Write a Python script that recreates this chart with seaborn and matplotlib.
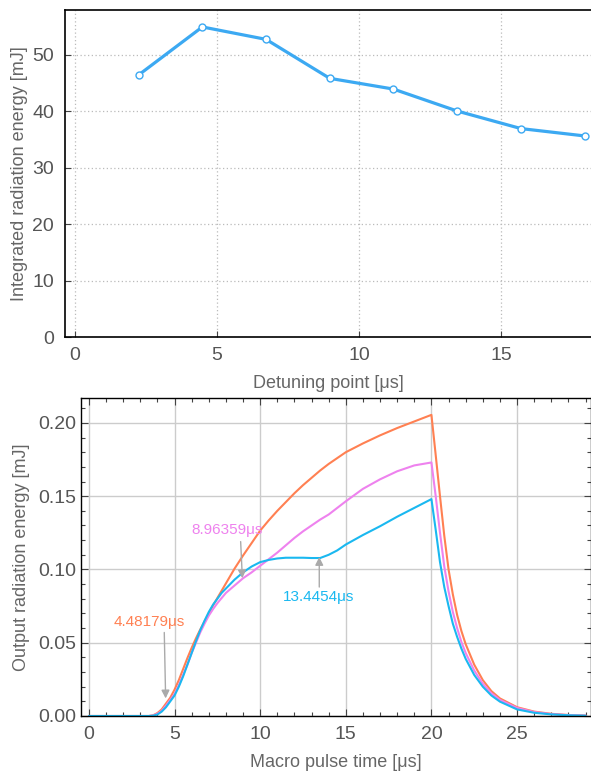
import seaborn as sns
import matplotlib.pyplot as plt
import matplotlib.ticker as mticker
import pandas as pd

# ---- data ----
detune_pts = [2.24, 4.48, 6.72, 8.96, 11.20, 13.45, 15.69, 17.93]
energy_mj = [46.4, 54.9, 52.7, 45.8, 43.9, 40.0, 36.9, 35.6]

t_us = [0, 1, 2, 3,
        3.5, 3.75, 4, 4.25, 4.5, 4.75, 5, 5.25, 5.5, 5.75, 6, 6.25, 6.5, 6.75, 7, 7.25, 7.5, 7.75, 8,
        8.5, 9, 9.5, 10, 10.5, 11, 11.5, 12, 12.5, 13, 13.5, 14, 14.5, 15,
        16, 17, 18, 19, 20,
        20.25, 20.5, 20.75, 21, 21.25, 21.5, 21.75, 22,
        22.5, 23, 23.5, 24,
        25, 26, 27, 28, 29]
e_448 = [0, 0, 0, 0,
         0, 0.0005, 0.002, 0.0045, 0.0085, 0.0125, 0.018, 0.0245, 0.032, 0.0395, 0.0465, 0.053, 0.059, 0.0645, 0.070, 0.0755, 0.0805, 0.0855, 0.0905,
         0.1005, 0.1095, 0.118, 0.1265, 0.1335, 0.140, 0.146, 0.152, 0.1575, 0.1625, 0.1675, 0.172, 0.176, 0.180,
         0.186, 0.1915, 0.1965, 0.201, 0.2055,
         0.178, 0.150, 0.123, 0.100, 0.083, 0.069, 0.058, 0.049,
         0.035, 0.0245, 0.017, 0.012,
         0.006, 0.003, 0.0015, 0.0007, 0.0003]
e_896 = [0, 0, 0, 0,
         0, 0.0003, 0.0015, 0.0035, 0.007, 0.011, 0.015, 0.021, 0.028, 0.035, 0.043, 0.050, 0.057, 0.063, 0.0685, 0.073, 0.077, 0.0805, 0.084,
         0.089, 0.094, 0.098, 0.1025, 0.107, 0.1115, 0.1165, 0.1215, 0.126, 0.130, 0.134, 0.1375, 0.142, 0.1465,
         0.155, 0.1615, 0.167, 0.171, 0.173,
         0.150, 0.125, 0.102, 0.085, 0.071, 0.060, 0.0505, 0.043,
         0.031, 0.022, 0.0155, 0.011,
         0.0055, 0.0027, 0.0013, 0.0006, 0.0003]
e_1345 = [0, 0, 0, 0,
          0, 0.0002, 0.001, 0.003, 0.006, 0.010, 0.014, 0.020, 0.027, 0.035, 0.043, 0.051, 0.0585, 0.065, 0.071, 0.076, 0.080, 0.084, 0.087,
          0.093, 0.098, 0.102, 0.105, 0.1065, 0.1075, 0.108, 0.108, 0.108, 0.1078, 0.1078, 0.110, 0.113, 0.117,
          0.1235, 0.1295, 0.136, 0.142, 0.148,
          0.127, 0.105, 0.088, 0.075, 0.063, 0.054, 0.046, 0.039,
          0.028, 0.020, 0.014, 0.0098,
          0.0045, 0.0022, 0.0011, 0.0005, 0.0002]
curve_names = ['4.48179μs', '8.96359μs', '13.4454μs']

palette = {'4.48179μs': '#FF8052', '8.96359μs': '#EE82EE', '13.4454μs': '#1AB8F0'}
top_color = '#3CA9F2'

sns.set_theme(style="ticks")
plt.rcParams['font.family'] = ['Liberation Sans', 'DejaVu Sans']
tick_fs = 14
label_fs = 13
tick_c = '#555555'
label_c = '#666666'

fig = plt.figure(figsize=(5.91, 7.72), dpi=100)
ax1 = fig.add_axes([65/591, 1 - 337/772, 526/591, 327/772])
ax2 = fig.add_axes([80.7/591, 1 - 716/772, 510/591, 318/772])

# ---- top panel ----
df_top = pd.DataFrame({'detune': detune_pts, 'energy': energy_mj})
sns.lineplot(data=df_top, x='detune', y='energy', ax=ax1, color=top_color, lw=2.3,
             marker='o', markersize=5, markerfacecolor='white',
             markeredgecolor=top_color, markeredgewidth=1.0)
ax1.set_xlim(-0.35, 18.15)
ax1.set_ylim(0, 57.9)
ax1.set_xticks([0, 5, 10, 15])
ax1.set_yticks([0, 10, 20, 30, 40, 50])
ax1.grid(True, ls=(0, (1, 2)), color='#bbbbbb', lw=0.9)
ax1.tick_params(direction='in', length=4, width=0.8, labelsize=tick_fs, labelcolor=tick_c, color='#444444')
ax1.tick_params(axis='x', pad=7)
ax1.tick_params(axis='y', pad=8)
ax1.set_xlabel('Detuning point [μs]', fontsize=label_fs, color=label_c, labelpad=8)
ax1.set_ylabel('Integrated radiation energy [mJ]', fontsize=label_fs, color=label_c, labelpad=3)
for s in ax1.spines.values():
    s.set_color('black')
    s.set_linewidth(1.2)
ax1.spines['right'].set_visible(False)

# ---- bottom panel ----
df_bot = pd.DataFrame({'t': t_us, curve_names[0]: e_448, curve_names[1]: e_896, curve_names[2]: e_1345})
df_bot = pd.melt(df_bot, id_vars=['t'], var_name='detune', value_name='energy')
sns.lineplot(data=df_bot, x='t', y='energy', hue='detune', hue_order=curve_names,
             palette=palette, ax=ax2, lw=1.5, legend=False)
ax2.set_xlim(-0.48, 29.3)
ax2.set_ylim(0, 0.217)
ax2.set_xticks([0, 5, 10, 15, 20, 25])
ax2.set_yticks([0, 0.05, 0.10, 0.15, 0.20])
ax2.yaxis.set_major_formatter(mticker.FormatStrFormatter('%.2f'))
ax2.xaxis.set_minor_locator(mticker.MultipleLocator(1))
ax2.yaxis.set_minor_locator(mticker.MultipleLocator(0.01))
ax2.grid(True, which='major', color='#cccccc', lw=1.0)
ax2.tick_params(which='both', direction='in', top=True, right=True, width=0.8, color='#444444')
ax2.tick_params(which='major', length=5, labelsize=tick_fs, labelcolor=tick_c)
ax2.tick_params(which='minor', length=3)
ax2.tick_params(axis='x', which='major', pad=7)
ax2.set_xlabel('Macro pulse time [μs]', fontsize=label_fs, color=label_c, labelpad=8)
ax2.set_ylabel('Output radiation energy [mJ]', fontsize=label_fs, color=label_c, labelpad=6)
for s in ax2.spines.values():
    s.set_color('black')
    s.set_linewidth(1.0)

arrow = dict(arrowstyle='-|>', color='#aaaaaa', lw=1.0, mutation_scale=12, shrinkA=0, shrinkB=0)
ax2.annotate('', xy=(4.48, 0.012), xytext=(4.40, 0.057), arrowprops=arrow)
ax2.text(3.5, 0.064, curve_names[0], color=palette[curve_names[0]], fontsize=11, ha='center', va='center')
ax2.annotate('', xy=(8.96, 0.094), xytext=(8.86, 0.119), arrowprops=arrow)
ax2.text(8.08, 0.127, curve_names[1], color=palette[curve_names[1]], fontsize=11, ha='center', va='center')
ax2.annotate('', xy=(13.45, 0.1085), xytext=(13.45, 0.088), arrowprops=arrow)
ax2.text(13.4, 0.081, curve_names[2], color=palette[curve_names[2]], fontsize=11, ha='center', va='center')

fig.savefig('out.png', dpi=100)
